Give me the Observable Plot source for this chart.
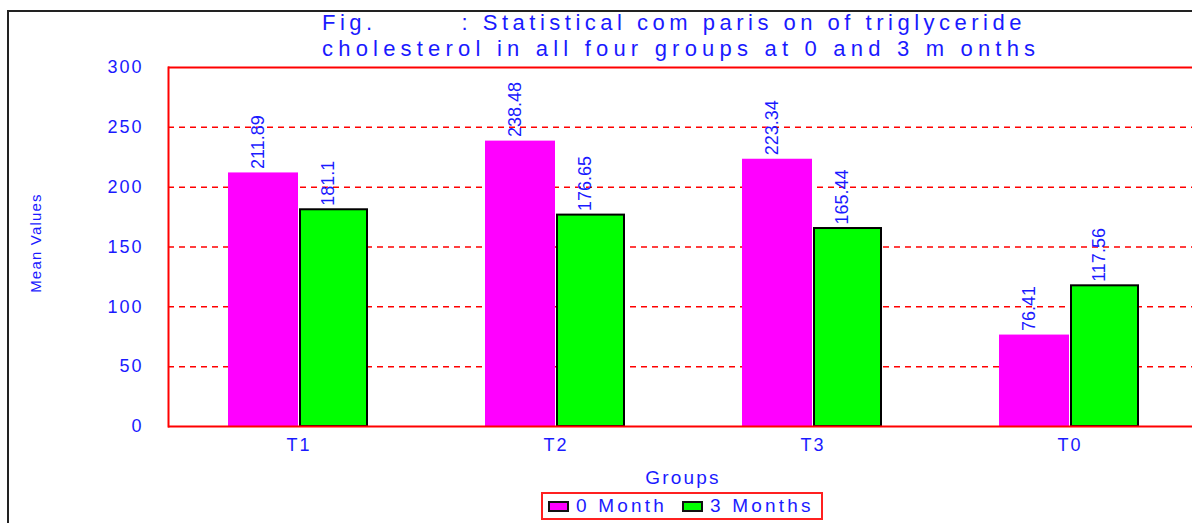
<!DOCTYPE html>
<html>
<head>
<meta charset="utf-8">
<script src="https://cdn.jsdelivr.net/npm/d3@7"></script>
<script src="https://cdn.jsdelivr.net/npm/@observablehq/plot@0.6"></script>
<style>
  html, body { margin: 0; padding: 0; background: #fff; }
  body { width: 1192px; height: 523px; position: relative; overflow: hidden; font-family: "Liberation Sans", Arial, sans-serif; }
  #chart { position: absolute; left: 0; top: 0; }
  .border { position: absolute; left: 7px; top: 10px; width: 1200px; height: 530px; border-left: 2px solid #222; border-top: 2px solid #222; }
  .title { position: absolute; left: 322px; top: 10px; color: #1a1aff; font-size: 22px; line-height: 26px; white-space: pre; }
  .title .l1 { display: block; letter-spacing: 4.5px; }
  .title .l2 { display: block; letter-spacing: 5.2px; }
  .ylabel { position: absolute; left: 35px; top: 243px; transform: translate(-50%, -50%) rotate(-90deg); color: #1a1aff; font-size: 15px; letter-spacing: 1.2px; white-space: nowrap; }
  .xlabel { position: absolute; left: 683px; top: 478px; transform: translate(-50%, -50%); color: #1a1aff; font-size: 19px; letter-spacing: 2.2px; }
  .legend { position: absolute; left: 541px; top: 492px; width: 278px; height: 24px; border: 2px solid #ff2020; display: flex; align-items: center; color: #1a1aff; font-size: 19px; letter-spacing: 3.2px; white-space: nowrap; }
  .sw { display: inline-block; width: 17px; height: 7px; border: 2px solid #111; margin-left: 5px; margin-right: 7px; }
  svg g[aria-label="y-axis tick label"] text { letter-spacing: 2px; }
  svg g[aria-label="x-axis tick label"] text { letter-spacing: 2px; }
</style>
</head>
<body>
<div class="border"></div>
<div id="chart"></div>
<div class="title"><span class="l1">Fig.        : Statistical com paris on of triglyceride</span><span class="l2">cholesterol in all four groups at 0 and 3 m onths</span></div>
<div class="ylabel">Mean Values</div>
<div class="xlabel">Groups</div>
<div class="legend" id="legend"></div>
<script>
const groups = ["T1", "T2", "T3", "T0"];
const series = ["0 Month", "3 Months"];
const month0 = [211.89, 238.48, 223.34, 76.41];
const month3 = [181.1, 176.65, 165.44, 117.56];
const labels0 = ["211.89", "238.48", "223.34", "76.41"];
const labels3 = ["181.1", "176.65", "165.44", "117.56"];
const yTicks = [0, 50, 100, 150, 200, 250, 300];
const colors = ["#ff00ff", "#00ff00"];

const d0 = groups.map((g, i) => ({group: g, value: month0[i], label: labels0[i]}));
const d3m = groups.map((g, i) => ({group: g, value: month3[i], label: labels3[i]}));

const blue = "#1a1aff";
const chart = Plot.plot({
  width: 1192,
  height: 523,
  marginTop: 67,
  marginBottom: 97,
  marginLeft: 168,
  marginRight: 0,
  style: {background: "transparent", fontFamily: "Liberation Sans, Arial, sans-serif"},
  x: {domain: groups, range: [168, 1199], padding: 0},
  y: {domain: [0, 300]},
  marks: [
    Plot.gridY(yTicks.filter(t => t > 0 && t < 300), {stroke: "#ff0000", strokeOpacity: 1, strokeWidth: 1.5, strokeDasharray: "6,5"}),
    Plot.barY(d0, {x: "group", y: "value", fill: colors[0], insetLeft: 58, insetRight: 129}),
    Plot.barY(d3m, {x: "group", y: "value", fill: colors[1], stroke: "#000", strokeWidth: 2, insetLeft: 130, insetRight: 60}),
    Plot.text(d0, {x: "group", y: "value", text: "label", rotate: -90, textAnchor: "start", dx: -41, dy: -4, fill: blue, fontSize: 18}),
    Plot.text(d3m, {x: "group", y: "value", text: "label", rotate: -90, textAnchor: "start", dx: 29, dy: -4, fill: blue, fontSize: 18}),
    Plot.ruleY([0, 300], {stroke: "#ff0000", strokeWidth: 2}),
    Plot.frame({anchor: "left", stroke: "#ff0000", strokeWidth: 2}),
    Plot.axisY({ticks: yTicks, tickSize: 0, tickPadding: 25, fontSize: 18, fill: blue, label: null}),
    Plot.axisX({tickSize: 0, tickPadding: 12, fontSize: 18, fill: blue, label: null})
  ]
});
document.getElementById("chart").appendChild(chart);

const legend = document.getElementById("legend");
series.forEach((s, i) => {
  const sw = document.createElement("span");
  sw.className = "sw";
  sw.style.background = colors[i];
  if (i > 0) sw.style.marginLeft = "15px";
  legend.appendChild(sw);
  const t = document.createElement("span");
  t.textContent = s;
  legend.appendChild(t);
});
</script>
</body>
</html>
